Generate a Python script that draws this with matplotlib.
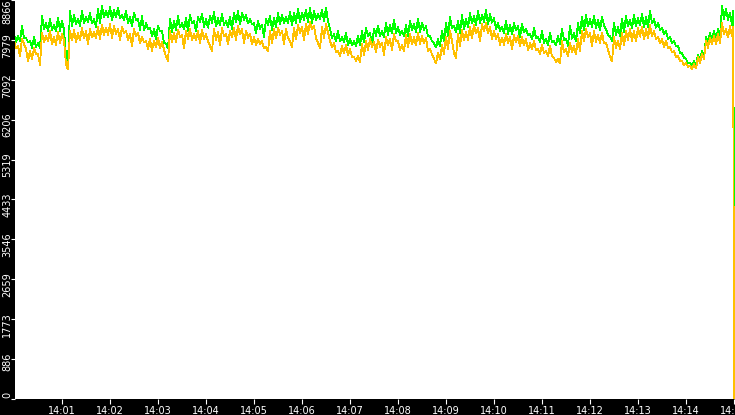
import numpy as np
import matplotlib
matplotlib.use("Agg")
import matplotlib.pyplot as plt
from matplotlib.transforms import ScaledTranslation

# samples every 5 s from 14:00:00, then the last two readings at 14:14:59 / 14:15:00
times = list(range(0, 900, 5)) + [899, 900]
green = [8111, 8066, 8288, 8022, 7955, 8044, 7911, 8509, 8354, 8443,
         8310, 8465, 8399, 7623, 8620, 8532, 8443, 8620, 8487, 8576,
         8443, 8665, 8731, 8620, 8709, 8642, 8687, 8532, 8620, 8487,
         8576, 8443, 8509, 8354, 8243, 8221, 8288, 8177, 7889, 8443,
         8399, 8509, 8354, 8465, 8532, 8399, 8487, 8554, 8443, 8509,
         8598, 8465, 8554, 8399, 8487, 8576, 8620, 8576, 8532, 8443,
         8354, 8399, 8310, 8443, 8509, 8465, 8576, 8532, 8487, 8598,
         8576, 8665, 8576, 8642, 8687, 8620, 8554, 8642, 8687, 8221,
         8111, 8177, 8044, 8133, 8000, 7955, 8066, 8177, 8243, 8133,
         8221, 8288, 8177, 8354, 8310, 8421, 8266, 8177, 8310, 8399,
         8332, 8443, 8354, 8288, 8066, 7911, 8000, 8177, 8354, 8487,
         8288, 8399, 8532, 8443, 8576, 8509, 8620, 8532, 8642, 8554,
         8465, 8354, 8266, 8399, 8310, 8354, 8288, 8332, 8221, 8111,
         8243, 8044, 8177, 8000, 8133, 7955, 8066, 8221, 8000, 8288,
         8133, 8354, 8487, 8532, 8443, 8509, 8421, 8487, 8221, 8066,
         8354, 8266, 8443, 8509, 8421, 8532, 8465, 8554, 8487, 8620,
         8443, 8354, 8243, 8177, 8044, 7955, 7845, 7690, 7557, 7468,
         7512, 7645, 7734, 8044, 8133, 8177, 8221, 8731, 8665, 8576,
         8620, 4180]
orange = [7955, 7845, 8000, 7778, 7734, 7800, 7667, 8133, 8066, 8177,
          8044, 8155, 8111, 7424, 8177, 8199, 8133, 8243, 8177, 8221,
          8155, 8266, 8310, 8243, 8332, 8288, 8221, 8266, 8177, 8111,
          8221, 8133, 8044, 7955, 8000, 7955, 8022, 7933, 7601, 8177,
          8133, 8199, 8088, 8177, 8221, 8111, 8177, 8199, 8111, 7845,
          8221, 8155, 8243, 8111, 8177, 8243, 8288, 8221, 8177, 8111,
          8044, 8000, 7955, 7822, 8177, 8221, 8243, 8177, 8221, 7955,
          8243, 8310, 8266, 8332, 8376, 8288, 7911, 8266, 8332, 7955,
          7911, 7734, 7845, 7867, 7778, 7601, 7623, 7889, 7955, 8000,
          7933, 7978, 7911, 8044, 8000, 8111, 7955, 7867, 8088, 8111,
          8044, 8133, 8066, 8022, 7778, 7557, 7690, 7867, 8044, 8177,
          7690, 8111, 8199, 8155, 8266, 8310, 8243, 8332, 8354, 8266,
          8177, 8111, 8022, 8111, 8044, 8088, 8066, 8044, 8000, 7911,
          7955, 7778, 7867, 7734, 7845, 7579, 7557, 7955, 7778, 7911,
          7845, 8000, 8177, 8221, 8133, 8177, 8088, 8133, 7911, 7601,
          8044, 7955, 8133, 8177, 8221, 8177, 8243, 8266, 8221, 8310,
          8177, 8044, 8000, 7955, 7822, 7734, 7623, 7512, 7468, 7401,
          7446, 7601, 7667, 7955, 8022, 8066, 8111, 8354, 8221, 8288,
          8266, 0]
# depth of the dip between two 5 s readings (reading at +2.5 s)
green_dip = [180, 120, 260, 90, 150, 220, 110, 300, 170, 240,
             130, 280, 190, 100, 330, 210, 150, 270, 120, 230,
             180, 310, 250, 140, 290, 160, 220, 120, 260, 200,
             150, 240, 310, 130, 180, 220, 120, 260, 100, 290,
             200, 250, 140, 300, 170, 230, 110, 280, 190, 150,
             320, 160, 240, 130, 270, 210, 300, 150, 190, 120,
             230, 170, 260, 140, 310, 200, 250, 180, 130, 280,
             220, 300, 150, 260, 330, 190, 120, 240, 280, 200,
             160, 230, 110, 270, 140, 120, 210, 250, 180, 290,
             150, 220, 130, 260, 190, 300, 170, 120, 240, 210,
             180, 280, 150, 230, 120, 100, 160, 220, 290, 250,
             140, 260, 310, 180, 230, 200, 270, 150, 320, 190,
             240, 170, 130, 280, 210, 160, 250, 190, 140, 120,
             220, 110, 260, 130, 200, 100, 180, 240, 150, 280,
             190, 230, 300, 250, 170, 270, 220, 180, 140, 120,
             260, 200, 290, 230, 180, 250, 160, 300, 220, 270,
             190, 150, 130, 170, 140, 120, 150, 110, 90, 80,
             90, 120, 150, 130, 160, 200, 180, 280, 240, 260]
orange_dip = [150, 230, 110, 270, 180, 130, 250, 200, 120, 290,
              170, 240, 140, 100, 210, 280, 160, 230, 300, 190,
              130, 260, 220, 150, 310, 180, 240, 130, 200, 270,
              160, 220, 120, 180, 260, 140, 230, 170, 90, 250,
              210, 150, 290, 180, 240, 130, 280, 200, 160, 110,
              240, 300, 170, 220, 140, 260, 190, 310, 150, 230,
              180, 120, 160, 100, 270, 210, 150, 290, 200, 130,
              250, 180, 300, 220, 160, 270, 120, 240, 190, 140,
              200, 110, 160, 230, 180, 90, 130, 250, 200, 170,
              220, 150, 270, 190, 240, 160, 210, 130, 280, 230,
              190, 250, 160, 300, 120, 100, 140, 200, 260, 220,
              110, 280, 230, 170, 250, 190, 300, 160, 220, 270,
              180, 240, 150, 210, 270, 160, 230, 190, 250, 140,
              200, 120, 180, 110, 230, 90, 100, 250, 160, 210,
              190, 260, 220, 180, 290, 240, 170, 230, 150, 100,
              240, 180, 270, 200, 260, 230, 190, 280, 210, 250,
              170, 140, 180, 150, 120, 130, 110, 100, 90, 80,
              100, 130, 120, 150, 140, 180, 200, 250, 190, 230]
y_ticks = [0, 886, 1773, 2659, 3546, 4433, 5319, 6206, 7092, 7979, 8866]
x_ticks_min = list(range(1, 16))
x_labels = ["14:%02d" % m for m in x_ticks_min]

# interleave the 5 s readings with the in-between readings
tt, gg, oo = [], [], []
for i in range(len(green_dip)):
    tt += [times[i], times[i] + 2.5]
    gg += [green[i], green[i] - green_dip[i]]
    oo += [orange[i], orange[i] - orange_dip[i]]
n = len(green_dip)
tt += times[n:]
gg += green[n:]
oo += orange[n:]

fig = plt.figure(figsize=(7.35, 4.15), dpi=100, facecolor="black")
ax = fig.add_axes([15 / 735, 16 / 415, 720 / 735, 399 / 415])
ax.set_facecolor("white")

ax.plot(tt, gg, color="#00FF00", lw=0.6, antialiased=False)
ax.plot(tt, oo, color="#FFC000", lw=0.6, antialiased=False)

ax.set_xlim(1.25, 901.25)
ax.set_ylim(0, 8866)

for s in ax.spines.values():
    s.set_visible(False)

ax.set_xticks([m * 60 for m in x_ticks_min])
ax.set_xticklabels(x_labels)
ax.set_yticks(y_ticks)
ax.set_yticklabels([str(v) for v in y_ticks])
ax.tick_params(axis="both", colors="white", direction="out", width=0.8,
               labelsize=7)
ax.tick_params(axis="x", length=3.5, pad=1.5)
ax.tick_params(axis="y", length=2.9, pad=-0.8)

off = ScaledTranslation(0, 5 / 72, fig.dpi_scale_trans)
labs = ax.get_yticklabels()
for lab in labs:
    lab.set_rotation(90)
    lab.set_va("top")
    lab.set_ha("right")
for lab in labs[:-1]:
    lab.set_transform(lab.get_transform() + off)

fig.savefig("out.png", dpi=100, facecolor="black")
